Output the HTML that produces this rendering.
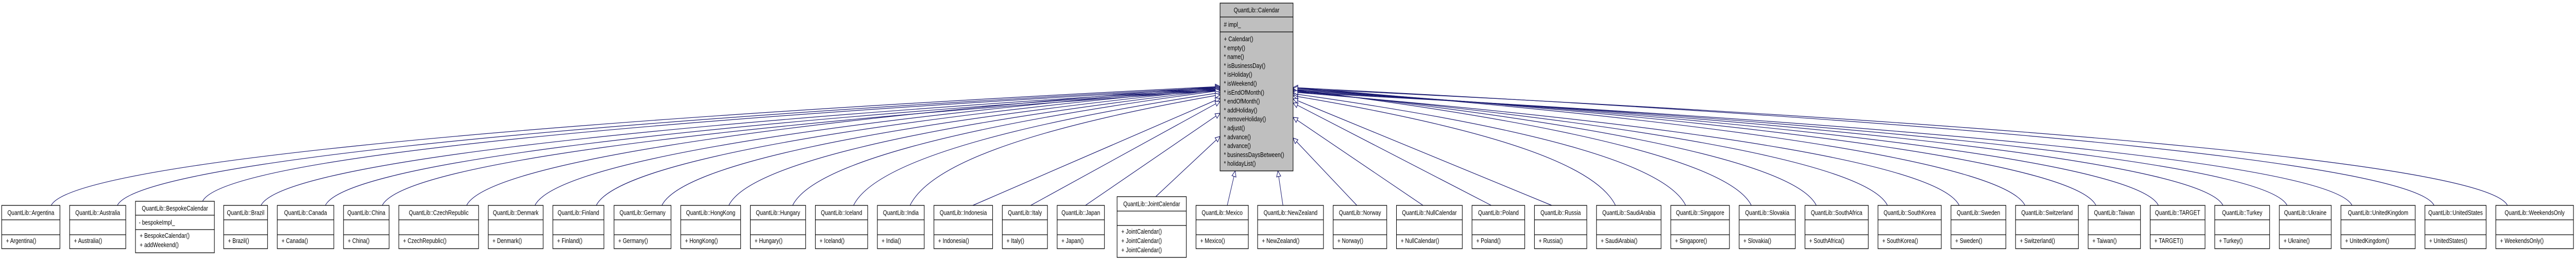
<!DOCTYPE html>
<html><head><meta charset="utf-8">
<style>
html,body{margin:0;padding:0;background:#fff;overflow:hidden;width:100%;height:100%;}
svg{display:block;position:absolute;left:0;top:0;width:100vw;height:100vh;}
text{font-family:"Liberation Sans",Arial,sans-serif;font-size:12.5px;fill:#000;}
</style></head>
<body>
<svg id="s" viewBox="0 0 6104 507" preserveAspectRatio="none" xmlns="http://www.w3.org/2000/svg">
<g id="edges" fill="none" stroke="#191970" stroke-width="1.2"></g>
<g id="heads" fill="#fff" stroke="#191970" stroke-width="1.2"></g>
<g id="boxes" stroke="#000" stroke-width="1.3">
<rect x="2891" y="6" width="173" height="326" fill="#bfbfbf"/>
<line x1="2891" y1="33" x2="3064" y2="33"/><line x1="2891" y1="62" x2="3064" y2="62"/>
</g>
<g id="txt">
<text x="2977.5" y="24" text-anchor="middle">QuantLib::Calendar</text>
<text x="2900" y="52"># impl_</text>
<text x="2900" y="80">+ Calendar()</text>
<text x="2900" y="97.3">* empty()</text>
<text x="2900" y="114.6">* name()</text>
<text x="2900" y="131.9">* isBusinessDay()</text>
<text x="2900" y="149.2">* isHoliday()</text>
<text x="2900" y="166.5">* isWeekend()</text>
<text x="2900" y="183.8">* isEndOfMonth()</text>
<text x="2900" y="201.1">* endOfMonth()</text>
<text x="2900" y="218.4">* addHoliday()</text>
<text x="2900" y="235.7">* removeHoliday()</text>
<text x="2900" y="253">* adjust()</text>
<text x="2900" y="270.3">* advance()</text>
<text x="2900" y="287.6">* advance()</text>
<text x="2900" y="304.9">* businessDaysBetween()</text>
<text x="2900" y="322.2">* holidayList()</text>
</g>
</svg>
<script>
var B=[
["Argentina",4,142],["Australia",165,298],["BespokeCalendar",321,508,"b"],["Brazil",530,634],["Canada",657,791],["China",814,922],["CzechRepublic",945,1134],["Denmark",1157,1287],["Finland",1310,1431],["Germany",1455,1590],["HongKong",1613,1755],["Hungary",1778,1909],["Iceland",1932,2056],["India",2079,2190],["Indonesia",2213,2352],["Italy",2375,2482],["Japan",2505,2617],["JointCalendar",2647,2811,"j"],
["Mexico",2834,2958],["NewZealand",2980,3136],["Norway",3159,3286],["NullCalendar",3309,3465],["Poland",3488,3613],["Russia",3636,3760],["SaudiArabia",3783,3936],["Singapore",3959,4098],["Slovakia",4121,4254],["SouthAfrica",4277,4427],["SouthKorea",4450,4600],["Sweden",4623,4753],["Switzerland",4776,4925],["Taiwan",4948,5072],["TARGET",5095,5225],["Turkey",5248,5378],["Ukraine",5401,5524],["UnitedKingdom",5547,5723],["UnitedStates",5746,5891],["WeekendsOnly",5914,6098]];
var NS="http://www.w3.org/2000/svg";
function el(p,t,a,tx){var e=document.createElementNS(NS,t);for(var k in a)e.setAttribute(k,a[k]);if(tx)e.textContent=tx;document.getElementById(p).appendChild(e);return e;}
B.forEach(function(b,i){
 var n=b[0],l=b[1],r=b[2],w=r-l,t,d1,d2,bot,meth;
 if(b[3]=="b"){t=391;d1=418;d2=446;bot=491;meth=["+ BespokeCalendar()","+ addWeekend()"];}
 else if(b[3]=="j"){t=382;d1=410;d2=438;bot=500;meth=["+ JointCalendar()","+ JointCalendar()","+ JointCalendar()"];}
 else {t=399;d1=427;d2=456;bot=483;meth=["+ "+n+"()"];}
 el("boxes","rect",{x:l,y:t,width:w,height:bot-t,fill:"#fff"});
 el("boxes","line",{x1:l,y1:d1,x2:r,y2:d1});el("boxes","line",{x1:l,y1:d2,x2:r,y2:d2});
 el("txt","text",{x:(l+r)/2,y:(t+d1)/2+4.5,"text-anchor":"middle"},"QuantLib::"+n);
 if(b[3]=="b")el("txt","text",{x:l+8,y:(d1+d2)/2+4.5},"- bespokeImpl_");
 meth.forEach(function(m,k){el("txt","text",{x:l+10,y:d2+16+k*18},m);});
 b.top=t;
});
var L={17:265,16:220,15:197,14:191,13:184,12:180};
var R={20:268,21:228,22:200,23:192,24:186,25:182};
B.forEach(function(b,i){
 var l=b[1],r=b[2],w=r-l,top=b.top,ax,tx,ty,path,ex,ey;
 var f=0.5-0.35*Math.max(-1,Math.min(1,((l+r)/2-2977)/1500));
 ax=l+w*f;
 if(i==18){ax=2908;tx=2927;ty=332;}
 else if(i==19){ax=3040;tx=3028;ty=332;}
 else if(i<18){tx=2891;ty=(L[i]!==undefined)?L[i]:(168+(i%6)*1.6);}
 else {tx=3064;ty=(R[i]!==undefined)?R[i]:(170+(i%6)*1.8);}
 var dx=tx-ax,p1x,p1y,p2x,p2y;
 if(Math.abs(dx)<700){path="M"+ax+","+top+" L"+tx+","+ty;ex=tx-ax;ey=ty-top;}
 else{
  var s=dx>0?1:-1;
  p1x=ax+s*45;p1y=top-75;
  p2x=ax+dx*0.35;p2y=ty+(top-ty)*0.32;
  path="M"+ax+","+top+" C"+p1x+","+p1y+" "+p2x+","+p2y+" "+tx+","+ty;
  ex=tx-p2x;ey=ty-p2y;
 }
 el("edges","path",{d:path});
 var len=Math.sqrt(ex*ex+ey*ey),ux=ex/len,uy=ey/len,bx=tx-ux*11,by=ty-uy*11;
 el("heads","polygon",{points:tx+","+ty+" "+(bx-uy*5)+","+(by+ux*5)+" "+(bx+uy*5)+","+(by-ux*5)});
});
</script>
</body></html>
